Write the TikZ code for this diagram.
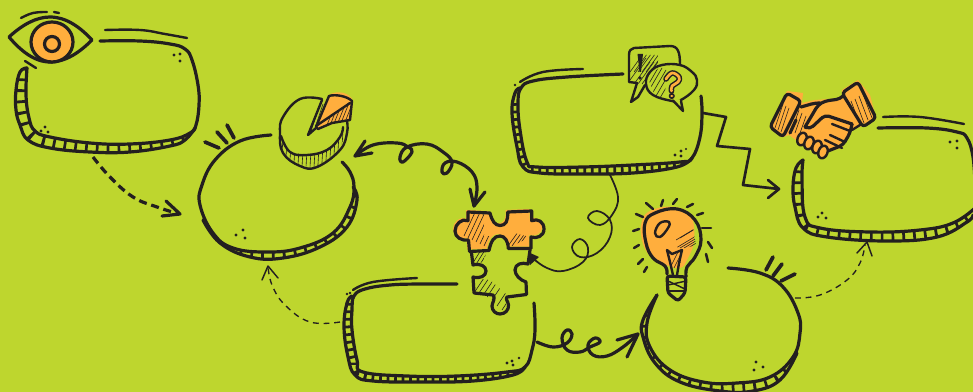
\documentclass[tikz,border=0pt]{standalone}
\definecolor{bggreen}{RGB}{190,214,46}
\definecolor{inkc}{RGB}{35,31,32}
\definecolor{orangec}{RGB}{255,174,61}
\tikzset{
  sm/.style={smooth,tension=0.7},
  ink/.style={draw=inkc,line width=2.4pt,line cap=round,line join=round},
  inkfine/.style={draw=inkc,line width=1.8pt,line cap=round,line join=round},
  inkthin/.style={draw=inkc,line width=1.1pt,line cap=round,line join=round},
  hair/.style={draw=inkc,line width=0.45pt},
  tick/.style={draw=inkc,line width=2.8pt,line cap=round},
  ray/.style={draw=inkc,line width=1.9pt,line cap=round},
  dotc/.style={fill=inkc,draw=none},
  stripewide/.style={draw=inkc,line width=24pt,dash pattern=on 2pt off 6pt,line cap=butt},
  stripenarrow/.style={draw=inkc,line width=24pt,dash pattern=on 2pt off 3.6pt,line cap=butt},
  dashbold/.style={draw=inkc,line width=2.4pt,dash pattern=on 6pt off 3.6pt},
  dashthin/.style={draw=inkc,line width=1pt,dash pattern=on 4.4pt off 3.6pt},
  puzzleupper/.style={insert path={(468,212) -- (490,213) .. controls (492,221) and (495,225.5) .. (500,225.5) .. controls (506,225.5) and (508,221) .. (507.7,212) -- (531.7,211) -- (531.7,220.7) .. controls (538,218) and (544,222) .. (544,229) .. controls (544,236) and (537,239) .. (531,237) -- (531,248.5) -- (508.3,248.5) .. controls (508,241) and (505,236) .. (500,236) .. controls (494,236) and (491,241) .. (489,250.5) -- (469.5,251.5) -- (468.5,240) .. controls (461,241) and (455,237) .. (455,231) .. controls (455,224) and (462,218) .. (468,220.7) -- cycle}},
}
\newcommand\inkcurve[2][ink]{\draw[#1] plot[sm] coordinates {#2};}
\newcommand\bandfill[3]{%
  \begin{scope}
    \clip plot[sm] coordinates {#2} -- plot[sm] coordinates {#3} -- cycle;
    \draw[#1] plot[sm] coordinates {#2};
  \end{scope}
  \draw[ink] plot[sm] coordinates {#3};}
\newcommand\hatchin[3]{%
  \begin{scope}
    \clip #1;
    \foreach \hx/\hy in {#2} \draw[hair] (\hx,\hy) -- ++(#3);
  \end{scope}}
\newcommand\threedots[3]{\fill[dotc] #1 circle (1.7);\fill[dotc] #2 circle (1.7);\fill[dotc] #3 circle (1.7);}
\begin{document}
\begin{tikzpicture}[x=0.75pt,y=-0.75pt]
\useasboundingbox (0,0) rectangle (973,392);
\fill[bggreen] (0,0) rectangle (973,392);

%% ---------- connector end points
\coordinate (cardAout) at (93,157);
\coordinate (circAin) at (180,214);
\coordinate (cardCoutL) at (340,322);
\coordinate (circAinB) at (268,266);
\coordinate (pieEnd) at (355,156);
\coordinate (puzTop) at (474,206);
\coordinate (cardDoutB) at (609,173);
\coordinate (puzRight) at (528,252);
\coordinate (cardCoutR) at (537,342);
\coordinate (circBin) at (638,334);
\coordinate (cardDoutR) at (703,113);
\coordinate (cardEin) at (779,189);
\coordinate (circBout) at (795,298);
\coordinate (cardEinB) at (867,242);

%% ---------- card A (top left)
\bandfill{stripewide}{(27,68)(26,95)(29,118)(35,131)(50,137)(90,143)(130,144)(170,140)(190,133)}{(195,128)(185,140)(170,146)(130,152)(90,152)(50,148)(28,140)(20,125)(16,110)(16,90)(20,72)(27,68)}
\inkcurve{(100,41)(140,41)(170,44)(185,49)(192,60)(198,85)(199,105)(196,125)(190,133)(170,140)(130,144)(90,143)(50,137)(35,131)(29,118)(26,95)(27,68)}
\inkcurve[inkfine]{(105,30)(140,30)(165,34)(187,38)}
\threedots{(174,55)}{(180,54)}{(180,61)}
\threedots{(41,131)}{(45,127)}{(48,132)}

%% ---------- eye
\draw[ink] (9,37) .. controls (22,25) and (36,17) .. (50,17) .. controls (66,17) and (80,27) .. (92,40) .. controls (80,52) and (66,62) .. (50,62) .. controls (34,62) and (20,50) .. (9,37) -- cycle;
\draw[ink,fill=orangec] (52,42) circle [x radius=21,y radius=20];
\draw[ink] (52,44) circle (7.5);
\inkcurve[inkfine]{(21,18)(33,13)(47,12)}
\draw[inkfine] (54,12) -- (59,13);
\draw[inkfine] (25,61) -- (36,68);

%% ---------- circle A (left)
\bandfill{stripewide}{(203,215)(213,233)(233,248)(267,252)(300,248)(333,233)(350,207)(353,187)}{(353,187)(357,200)(347,227)(320,247)(283,258)(250,257)(220,243)(203,220)}
\inkcurve{(271,135)(240,141)(215,160)(202,185)(200,205)(213,233)(233,248)(267,252)(300,248)(333,233)(350,207)(354,187)(350,172)(342,162)}
\draw[tick] (205,142) -- (219,148);
\draw[tick] (217,132) -- (227,143);
\draw[tick] (227,125) -- (234,138);
\threedots{(236,235)}{(243,230)}{(245,238)}

%% ---------- pie
\hatchin{(280,135) -- (283,153) -- (300,166) -- (317,167) -- (340,150) -- (347,130) -- (340,137) -- (327,150) -- (307,155) -- (290,152) -- cycle}{283/137,287/140,291/143,295/146,299/148,303/150,307/150,311/150,315/150,319/147,323/145,327/143,331/141,335/138,339/134,343/130}{-1.5,26}
\fill[orangec] (315,127) -- (329,95) .. controls (336,90) and (350,92) .. (353,101) -- (351,120) -- (335,123) -- (318,130) -- cycle;
\hatchin{(316,128) -- (350,103) -- (350,121) -- (335,123) -- cycle}{325/130,329/128,333/126,337/125,341/123,345/122,349/120}{8,-20}
\draw[inkfine] (316,127) -- (329,96) .. controls (335,94) and (347,96) .. (352,101) -- (350,120) -- (332,123) -- (318,129) -- cycle;
\draw[inkfine] (316,126) -- (350,103);
\inkcurve[inkfine]{(322,99)(300,99)(283,117)(280,133)(283,153)(300,166)(317,167)(340,150)(347,133)(347,121)}
\inkcurve[inkfine]{(281,136)(290,152)(307,155)(327,150)(340,137)(343,127)}
\draw[inkfine] (322,100) -- (308,135) -- (316,128);
\hatchin{(322,101) -- (309,134) -- (315,127) -- (326,104) -- cycle}{310/134,313/134,316/134}{10,-30}

%% ---------- dashed arrow A
\draw[dashbold] plot[sm] coordinates {(cardAout)(110,177)(133,197)(157,207)(176,213)};
\draw[ink] (166,201) -- (circAin) -- (162,216);

%% ---------- card C (bottom)
\bandfill{stripenarrow}{(352,303)(352,330)(357,360)(363,372)(407,376)(457,376)(507,372)(525,367)}{(525,367)(513,375)(473,381)(423,382)(373,381)(355,375)(348,357)(344,327)(347,303)(352,296)}
\inkcurve{(457,284)(420,284)(390,285)(365,289)(354,296)(352,310)(352,330)(357,360)(363,372)(407,376)(457,376)(507,372)(525,367)(532,350)(535,330)(534,303)}
\inkcurve[inkfine]{(417,278)(373,282)(353,290)}
\fill[dotc] (347,294) circle (1.3); \fill[dotc] (350,293) circle (1.3);
\threedots{(507,363)}{(512,361)}{(513,365)}
\fill[dotc] (519,358) circle (1.3);

%% ---------- thin dashed to circle A
\draw[dashthin] plot[sm] coordinates {(cardCoutL)(310,322)(285,305)(272,285)(circAinB)};
\draw[inkthin] (262,280) -- (circAinB) -- (278,278);

%% ---------- curly double arrow
\draw[ink] plot[sm] coordinates {(pieEnd)(373,145)(397,143)(408,147)(412,152)(403,162)(400,157)(407,147)(427,144)(443,152)(452,162)(447,173)(442,172)(445,163)(457,162)(472,172)(477,187)(puzTop)};
\draw[ink] (365,141) -- (pieEnd) -- (372,153);
\draw[ink] (470,189) -- (puzTop) -- (485,192);

%% ---------- puzzle
\fill[orangec,shift={(-2,-2)},puzzleupper];
\hatchin{(468,213) -- (484,213) -- (484,236) -- (489,236) -- (488,250) -- (469,251) -- (468,240) -- (457,236) -- (456,226) -- (468,220) -- cycle}{464/236,468/238,472/240,476/242,480/244,484/246,488/248}{14,-30}
\hatchin{(508,248) -- (530,237) -- (510,232) -- (504,238) -- cycle}{508/246,512/246,516/246,520/244}{10,-14}
\draw[ink,puzzleupper];
\hatchin{(471,253) -- (487,251) -- (483,262) -- (473,265) -- cycle}{471/266,475/266,479/266,483/264}{10,-16}
\hatchin{(474,278) -- (490,280) -- (506,294) -- (506,310) -- (490,310) -- (487,296) -- (474,293) -- cycle}{472/296,477/296,482/297,487/297,492/300,497/306,502/310}{12,-18}
\draw[ink] (471.5,253) -- (473,265) .. controls (480,263) and (486,266) .. (486,271) .. controls (486,276) and (480,279) .. (473,277) -- (474,293) -- (493,295) .. controls (496,298) and (492,303) .. (492,306) .. controls (492,311) and (496,314) .. (500,314) .. controls (505,314) and (509,310) .. (508.5,305) .. controls (508,301) and (505,299) .. (507,297) -- (526.5,294.5) -- (526,282) .. controls (520,280) and (515,275) .. (515,270) .. controls (515,264) and (522,262) .. (528,264) -- (530,250);

%% ---------- card D (top centre)
\bandfill{stripenarrow}{(518,103)(520,130)(527,162)(537,167)(583,167)(633,165)(680,162)(692,158)}{(692,158)(677,167)(633,173)(583,174)(540,173)(523,167)(517,147)(512,113)(515,93)(520,88)}
\inkcurve{(623,74)(567,77)(533,81)(521,88)(518,103)(520,130)(527,162)(537,167)(583,167)(633,165)(680,162)(692,158)(700,137)(702,113)(701,96)}
\inkcurve[inkfine]{(583,69)(543,72)(520,82)}
\fill[dotc] (515,85) circle (1.3);
\threedots{(675,155)}{(681,151)}{(681,156)}
\fill[dotc] (686,149) circle (1.2);

%% ---------- speech bubbles
\hatchin{(630,55) -- (658,55) -- (658,65) -- (645,75) -- (645,85) -- (630,82) -- cycle}{630/72,634/72,638/72,642/72,646/72,650/72,654/72,658/72,630/80,634/84,638/84,642/84}{16,-22}
\draw[inkfine] (645,85) -- (638,97) -- (631,102) -- (637,83) -- (629,82) -- (629,55) .. controls (629,50) and (631,49) .. (634,48) -- (670,46) .. controls (678,46) and (680,52) .. (680,65);
\fill[inkc] (637.5,54) -- (643,54) -- (641,72) -- (639.5,72) -- cycle;
\fill[inkc] (640,78) circle (1.8);
\draw[inkfine,fill=bggreen] plot[smooth cycle,tension=0.7] coordinates {(680,100.5)(694,90)(697,80)(692,72)(680,65)(662,65)(650,72)(646,84)(653,95)(672,101)};
\hatchin{(648,78) -- (662,65) -- (668,70) -- (664,98) -- (655,96) -- cycle}{644/92,648/92,652/94,656/96,660/98,664/98,668/98}{14,-24}
\fill[bggreen] (674,99.5) -- (680,99.5) -- (680,103) -- (675,103) -- cycle;
\draw[inkfine] (673,100.5) -- (683,111) -- (681,101);
\draw[inkc,line width=4.2pt,line cap=round,line join=round] plot[sm] coordinates {(666,79)(672,73)(679,77)(678,82)(672,86)(671.5,91)};
\draw[inkc,line width=4.2pt,line cap=round] (671.5,96) -- (672,96);
\draw[orangec,line width=2pt,line cap=round,line join=round] plot[sm] coordinates {(666,79)(672,73)(679,77)(678,82)(672,86)(671.5,91)};
\draw[orangec,line width=2pt,line cap=round] (671.5,96) -- (672,96);

%% ---------- loop connector D -> puzzle
\draw[inkthin,line width=1.3pt] plot[sm] coordinates {(cardDoutB)(618,197)(612,215)(600,225)(588,218)(597,211)(610,220)(610,237)(597,253)(580,257)(572,247)(580,239)(588,248)(583,262)(563,271)(547,268)(535,260)};
\fill[inkc] (puzRight) -- (539,257) -- (530,265) -- cycle;

%% ---------- zigzag D -> E
\draw[ink,line width=2pt] (cardDoutR) -- (726,117) -- (717,146) -- (750,149) -- (743,185) -- (cardEin);
\draw[ink,line width=2pt] (768,180) -- (cardEin) -- (768,198);

%% ---------- squiggle C -> circle B
\draw[ink] plot[sm] coordinates {(cardCoutR)(553,347)(567,343)(572,334)(567,330)(562,338)(567,350)(580,352)(590,347)(600,342)(595,338)(588,345)(593,355)(607,356)(623,347)(circBin)};
\draw[ink] (617,340) -- (circBin) -- (627,357);

%% ---------- card E (right)
\bandfill{stripewide}{(803,160)(802,180)(805,217)(820,228)(870,232)(920,230)(953,223)(973,210)}{(973,215)(967,222)(937,237)(887,241)(827,237)(803,228)(795,207)(793,187)(796,168)(803,160)}
\inkcurve{(878,128)(927,128)(957,132)(967,138)(973,157)(975,185)}
\inkcurve{(803,160)(802,180)(805,217)(820,228)(870,232)(920,230)(953,223)(975,208)}
\inkcurve[inkfine]{(883,117)(920,117)(964,124)}
\threedots{(950,142)}{(957,141)}{(957,148)}
\threedots{(818,217)}{(822,213)}{(826,218)}

%% ---------- handshake
\fill[orangec] (787,91) -- (803,93) -- (802,103) -- (815,100) -- (842,98) -- (842,90) -- (858,80) -- (870,95) -- (876,118) -- (860,127) -- (852,130) -- (842,148) -- (826,152) -- (822,156) -- (800,143) -- (789,135) -- (783,137) -- (770,127) -- cycle;
\foreach \a/\b in {775/128,778/130,781/132}{\draw[hair] (\a,\b) -- ++(8,-24);}
\foreach \a/\b in {860/125,864/123,868/120,872/118}{\draw[hair] (\a,\b) -- ++(-9,-24);}
\foreach \a/\b in {792/130,795/133,799/136}{\draw[hair] (\a,\b) -- ++(7,-20);}
\draw[ink,rounded corners=2.5pt] (787,93) -- (801,101) -- (783,137) -- (770,127) -- cycle;
\draw[ink,rounded corners=2.5pt] (858,82) -- (876,118) -- (863,127) -- (842,93) -- cycle;
\draw[ink,rounded corners=3pt] (801,107) -- (815,103) -- (820,103);
\draw[ink,rounded corners=3pt] (790,133) -- (796,120);
\draw[ink,rounded corners=3pt] (805,127) -- (818,105) -- (825,101) -- (840,99) -- (844,95);
\draw[ink,rounded corners=3pt] (805,127) -- (810,129) -- (825,115) -- (852,124);
\draw[ink,rounded corners=3pt] (852,124) -- (850,133) -- (843,145) -- (828,151);
\draw[inkfine] (860,125) -- (852,130);
\draw[inkfine] (832,124) -- (850,131);
\draw[inkfine] (830,135) -- (845,142);
\draw[inkfine] (825,140) -- (842,148);
\foreach \fx/\fy in {802/139,809/143,817/147,823/152}{
  \draw[inkfine,fill=orangec] (\fx,\fy) ellipse [x radius=4.5,y radius=6.5,rotate=-20];
}

%% ---------- circle B (bottom right)
\bandfill{stripewide}{(657,295)(647,323)(650,347)(670,370)(703,382)(737,383)(770,377)(793,357)}{(797,353)(780,380)(753,391)(720,391)(680,382)(655,363)(643,337)(643,320)(657,295)}
\inkcurve{(728,268)(760,273)(783,287)(798,313)(800,333)(793,357)(770,377)(737,383)(703,382)(670,370)(650,347)(647,323)(657,295)}
\draw[tick] (766,270) -- (773,257);
\draw[tick] (773,276) -- (782,264);
\draw[tick] (781,281) -- (795,274);
\threedots{(756,362)}{(763,367)}{(754,370)}

%% ---------- thin dashed to card E
\draw[dashthin] plot[sm] coordinates {(circBout)(820,295)(847,280)(860,263)(865,245)};
\draw[inkthin] (857,253) -- (cardEinB) -- (872,256);

%% ---------- light bulb
\fill[orangec] plot[smooth cycle,tension=0.7] coordinates {(664,264)(650,256)(642,240)(642,221)(652,210)(675,207)(691,216)(694,240)(688,258)(680,268)};
\hatchin{(683,222) -- (692,222) -- (696,245) -- (678,250) -- (676,240) -- cycle}{676/248,680/248,684/248,688/248,692/248,696/248,676/240,680/238}{20,-12}
\hatchin{(672,252) -- (682,252) -- (680,268) -- (670,268) -- cycle}{670/268,674/268,678/268,682/268}{8,-16}
\draw[ink] plot[sm] coordinates {(667,274)(665,266)(653,258)(646,243)(645,223)(655,213)(677,209)(695,220)(701,240)(695,257)(687,267)(686,277)};
\draw[inkfine] plot[smooth cycle,tension=0.7] coordinates {(655,233)(660,223)(669,222)(668,228)(660,237)};
\draw[inkfine,line join=round] (673,275) -- (670,262) -- (667,250) -- (672,254) -- (677,252) -- (682,250) -- (679,263) -- (677,275);
\draw[ink,rounded corners=2pt] (667,276) -- (686,277) -- (685,293) -- (678,301) -- (668,293) -- cycle;
\draw[inkthin] (668,285) -- (686,281);
\draw[inkthin] (668,281) -- (685,289);
\draw[inkthin] (668,291) -- (685,291);
\foreach \ax/\ay/\bx/\by in {646/203/653/209,663/200/661/206,677/199/673/204,693/204/687/207,703/213/697/215,711/228/702/228,708/242/712/248,706/254/708/262,636/214/643/217,633/231/639/229,634/248/639/245,638/264/643/259,644/272/647/267}{\draw[ray] (\ax,\ay) -- (\bx,\by);}
\end{tikzpicture}
\end{document}
